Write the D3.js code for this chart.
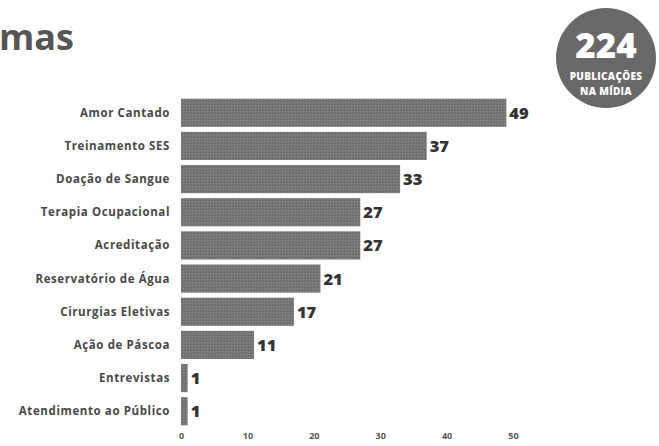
<!DOCTYPE html>
<html><head><meta charset="utf-8">
<script src="https://cdn.jsdelivr.net/npm/d3@7"></script>
<style>
html,body{margin:0;padding:0;background:#fff;}
svg{display:block;font-family:"Open Sans",sans-serif;}
</style></head>
<body>
<svg id="chart" width="659" height="446"></svg>
<script>
const categories = ["Amor Cantado","Treinamento SES","Doação de Sangue","Terapia Ocupacional","Acreditação","Reservatório de Água","Cirurgias Eletivas","Ação de Páscoa","Entrevistas","Atendimento ao Público"];
const values = [49,37,33,27,27,21,17,11,1,1];
const tickValues = [0,10,20,30,40,50];
const titleText = "mas";
const totalValue = "224";
const totalLabel = ["PUBLICAÇÕES","NA MÍDIA"];

const svg = d3.select("#chart");
const x = d3.scaleLinear().domain([0,50]).range([181,513]);
const y = d3.scaleBand().domain(categories).range([97,427]).paddingInner(0.15).paddingOuter(0.05);

const defs = svg.append("defs");
const pat = defs.append("pattern").attr("id","dots").attr("width",3).attr("height",3).attr("patternUnits","userSpaceOnUse");
pat.append("rect").attr("width",3).attr("height",3).attr("fill","#767676");
pat.append("rect").attr("width",1).attr("height",1).attr("fill","#8c8c8c");
pat.append("rect").attr("x",2).attr("y",2).attr("width",1).attr("height",1).attr("fill","#666");

svg.append("text").attr("x",-1).attr("y",50).attr("font-size",36).attr("font-weight",700)
  .attr("fill","#555").text(titleText);

svg.append("g").selectAll("rect").data(values).join("rect")
  .attr("x",x(0)).attr("y",(d,i)=>y(categories[i]))
  .attr("width",d=>x(d)-x(0)).attr("height",y.bandwidth())
  .attr("fill","url(#dots)");

svg.append("g").selectAll("text").data(values).join("text")
  .attr("x",d=>x(d)+3).attr("y",(d,i)=>y(categories[i])+y.bandwidth()/2)
  .attr("dy","0.36em").attr("font-size",16.5).attr("font-weight",800).attr("fill","#333")
  .text(d=>d);

svg.append("g").selectAll("text").data(categories).join("text")
  .attr("x",170).attr("y",d=>y(d)+y.bandwidth()/2).attr("dy","0.35em")
  .attr("text-anchor","end").attr("font-size",11.5).attr("font-weight",700).attr("fill","#484848")
  .attr("letter-spacing",0.6)
  .text(d=>d);

const ax = svg.append("g").attr("transform","translate(0,430)")
  .call(d3.axisBottom(x).tickValues(tickValues).tickSize(0).tickPadding(3));
ax.select(".domain").remove();
ax.selectAll("text").attr("font-size",9).attr("font-weight",700).attr("fill","#555").attr("font-family","Open Sans");

const badge = svg.append("g").attr("transform","translate(606,58)");
badge.append("circle").attr("r",50).attr("fill","#686868");
badge.append("text").attr("y",0).attr("text-anchor","middle").attr("font-size",35).attr("font-weight",800).attr("fill","#fff").text(totalValue);
badge.append("text").attr("y",22).attr("text-anchor","middle").attr("font-size",10).attr("font-weight",800).attr("fill","#fff").attr("letter-spacing",0.3).text(totalLabel[0]);
badge.append("text").attr("y",37).attr("text-anchor","middle").attr("font-size",10).attr("font-weight",800).attr("fill","#fff").attr("letter-spacing",0.3).text(totalLabel[1]);
</script>
</body></html>
